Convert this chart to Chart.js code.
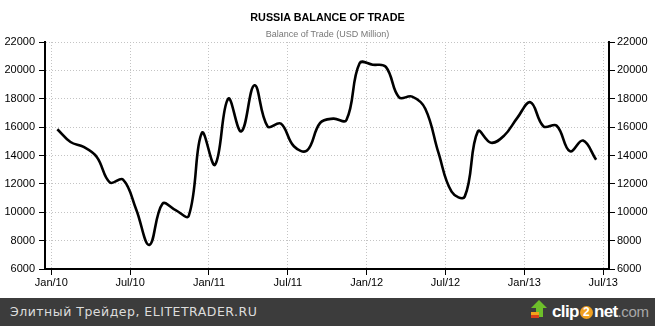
<!DOCTYPE html>
<html><head><meta charset="utf-8">
<script src="https://cdn.jsdelivr.net/npm/chart.js@4.4.0/dist/chart.umd.min.js"></script>
<style>
html,body{margin:0;padding:0;background:#fff;width:655px;height:326px;overflow:hidden}
#wrap{position:absolute;left:0;top:0;width:655px;height:298px}
#title{position:absolute;left:0;width:655px;top:10px;text-align:center;font:bold 10.8px "Liberation Sans",Arial,sans-serif;color:#000;line-height:14px}
#subtitle{position:absolute;left:0;width:655px;top:28px;text-align:center;font:9px "Liberation Sans",Arial,sans-serif;color:#777;line-height:12px}
#footer{position:absolute;left:0;top:298px;width:655px;height:28px;background:#3c3c3c}
#ftext{position:absolute;left:10px;top:5px;font:12.5px "DejaVu Sans",sans-serif;color:#dcdcdc;line-height:18px;letter-spacing:0.5px}
#logo{position:absolute;left:530px;top:2px;height:24px;width:125px}
#ltext{position:absolute;left:22px;top:1px;font:bold 17px "Liberation Sans",Arial,sans-serif;color:#fff;line-height:22px;letter-spacing:-0.6px;white-space:nowrap}
#ltext .two{display:inline-block;width:13px;height:13px;border-radius:7px;background:#f0a020;color:#fff;font-size:12px;line-height:13px;text-align:center;letter-spacing:0;vertical-align:1px;margin:0 1px}
#ltext .com{font-weight:normal;color:#a8a8a8;font-size:15px;letter-spacing:-0.4px}
</style></head><body>
<div id="wrap"><canvas id="c" width="655" height="298"></canvas></div>
<div id="title">RUSSIA BALANCE OF TRADE</div>
<div id="subtitle">Balance of Trade (USD Million)</div>
<div id="footer">
  <div id="ftext">Элитный Трейдер, ELITETRADER.RU</div>
  <div id="logo">
    <svg width="20" height="24" style="position:absolute;left:0;top:0">
      <polygon points="9,0 17,8 13,8 13,17 6,17 6,8 1,8" fill="#6dbf2a"/>
      <rect x="1" y="12" width="8" height="3" fill="#f2a31b"/>
      <rect x="1" y="15" width="8" height="3" fill="#d8401a"/>
    </svg>
    <div id="ltext">clip<span class="two">2</span>net<span class="com">.com</span></div>
  </div>
</div>
<script>
// Monthly data (first point Jan/10, last point Jun/13)
const months = ['2010-01','2010-02','2010-03','2010-04','2010-05','2010-06','2010-07','2010-08','2010-09','2010-10','2010-11','2010-12',
  '2011-01','2011-02','2011-03','2011-04','2011-05','2011-06','2011-07','2011-08','2011-09','2011-10','2011-11','2011-12',
  '2012-01','2012-02','2012-03','2012-04','2012-05','2012-06','2012-07','2012-08','2012-09','2012-10','2012-11','2012-12',
  '2013-01','2013-02','2013-03','2013-04','2013-05','2013-06'];
const balance = [15850,14950,14600,13900,12100,12300,10200,7700,10600,10150,9750,15600,
  13350,18000,15700,18950,16050,16250,14650,14350,16300,16600,16500,20500,
  20400,20250,18100,18150,17300,14200,11450,11100,15700,14900,15400,16650,
  17750,16050,16100,14300,15050,13700];
const tickLabels = ['Jan/10','Jul/10','Jan/11','Jul/11','Jan/12','Jul/12','Jan/13','Jul/13'];
const yMin = 6000, yMax = 22000, yStep = 2000;

const monthIndex = s => { const [y,m] = s.split('-').map(Number); return (y-2010)*12 + (m-1); };
const pointOffset = 0.46; // data points sit mid-month
const tickValues = tickLabels.map((_,i)=>i*6);

const yTicks = { stepSize: yStep, color:'#000', font:{family:'Liberation Sans', size:11}, callback: v => String(v) };
const yBorder = { color:'#000', width:2, dash:[1,2] };

new Chart(document.getElementById('c'), {
  type:'line',
  data:{ datasets:[{
    data: balance.map((v,i)=>({x: monthIndex(months[i]) + pointOffset, y: v})),
    borderColor:'#000', borderWidth:2.6, pointRadius:0, tension:0.4, fill:false
  }]},
  options:{
    responsive:false, animation:false, devicePixelRatio:1,
    layout:{ padding:{ top:42, left:0, right:0, bottom:0 } },
    plugins:{ legend:{display:false}, tooltip:{enabled:false}, title:{display:false} },
    scales:{
      x:{ type:'linear', position:'bottom', min:-0.48, max:42.44,
        afterBuildTicks: s => { s.ticks = tickValues.map(v=>({value:v})); },
        afterFit: s => { s.height = 29; },
        ticks:{ autoSkip:false, maxRotation:0, padding:1, color:'#000', font:{family:'Liberation Sans', size:11},
          callback: v => { const k = tickValues.indexOf(v); return k>=0 ? tickLabels[k] : ''; } },
        grid:{ color:'#c4c4c4', lineWidth:1, tickLength:6, tickColor:'#000', tickWidth:1, tickBorderDash:[] },
        border:{ color:'#000', width:2, dash:[1,2] }
      },
      y:{ min:yMin, max:yMax, position:'left',
        afterFit: s => { s.width = 45; },
        ticks:{ ...yTicks, padding:4 },
        border: yBorder,
        grid:{ color:'#c4c4c4', lineWidth:1, tickLength:6, tickColor:'#000', tickWidth:1, tickBorderDash:[] }
      },
      y2:{ min:yMin, max:yMax, position:'right', display:true,
        afterFit: s => { s.width = 46; },
        ticks:{ ...yTicks, padding:2 },
        border: yBorder,
        grid:{ drawOnChartArea:false, tickLength:6, tickColor:'#000', tickWidth:1, tickBorderDash:[] }
      }
    }
  }
});
</script>
</body></html>
